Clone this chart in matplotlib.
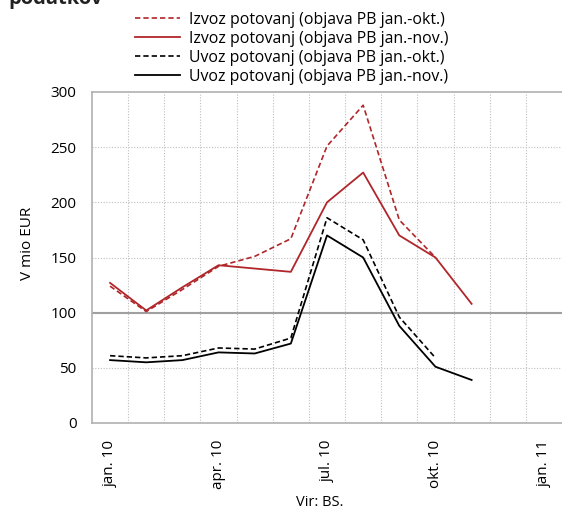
import numpy as np
import matplotlib.pyplot as plt

plt.rcParams['font.family'] = ['Open Sans', 'DejaVu Sans']

# months jan.10 .. jan.11
months = ['jan. 10', 'feb. 10', 'mar. 10', 'apr. 10', 'maj. 10', 'jun. 10',
          'jul. 10', 'avg. 10', 'sep. 10', 'okt. 10', 'nov. 10', 'dec. 10', 'jan. 11']

izvoz_okt = [124, 101, 121, 142, 151, 167, 251, 288, 184, 150]
izvoz_nov = [127, 102, 123, 143, 140, 137, 200, 227, 170, 150, 108]
uvoz_okt = [61, 59, 61, 68, 67, 77, 186, 166, 96, 59]
uvoz_nov = [57, 55, 57, 64, 63, 72, 170, 150, 88, 51, 39]

labels = ['Izvoz potovanj (objava PB jan.-okt.)',
          'Izvoz potovanj (objava PB jan.-nov.)',
          'Uvoz potovanj (objava PB jan.-okt.)',
          'Uvoz potovanj (objava PB jan.-nov.)']

red = '#B0262A'
grid_c = '#bfbfbf'

fig = plt.figure(figsize=(5.62, 5.13), dpi=100)
ax = fig.add_axes((92 / 562, 1 - 423 / 513, 470 / 562, 331 / 513))

x_okt = np.arange(len(izvoz_okt))
x_nov = np.arange(len(izvoz_nov))
dash = (0, (3.2, 1.8))
ax.plot(x_okt, izvoz_okt, color=red, lw=1.2, ls=dash, label=labels[0], zorder=3)
ax.plot(x_nov, izvoz_nov, color=red, lw=1.3, label=labels[1], zorder=3)
ax.plot(x_okt, uvoz_okt, color='black', lw=1.2, ls=dash, label=labels[2], zorder=3)
ax.plot(x_nov, uvoz_nov, color='black', lw=1.3, label=labels[3], zorder=3)

ax.set_xlim(-0.5, len(months) - 0.5)
ax.set_ylim(0, 300)
ax.set_yticks(np.arange(0, 301, 50))

# category boundaries as dotted grid
for b in np.arange(0.5, len(months) - 1, 1):
    ax.axvline(b, color=grid_c, lw=0.8, ls=(0, (1, 1.5)), zorder=1)
for v in [50, 150, 200, 250]:
    ax.axhline(v, color=grid_c, lw=0.8, ls=(0, (1, 1.5)), zorder=1)
ax.axhline(100, color='#a0a0a0', lw=1.5, zorder=2)

ax.set_xticks(np.arange(0, len(months), 3))
ax.set_xticklabels(months[::3], rotation=90, fontsize=11)
ax.tick_params(axis='x', length=0, pad=12)
ax.tick_params(axis='y', length=0, pad=11, labelsize=11)

for s in ['left', 'bottom', 'top']:
    ax.spines[s].set_color('#b0b0b0')
    ax.spines[s].set_linewidth(1.2)
ax.spines['right'].set_visible(False)

ax.set_ylabel('V mio EUR', fontsize=11)
ax.yaxis.set_label_coords(-0.122, 0.544)

fig.text(320 / 562, 1 - 502 / 513, 'Vir: BS.', ha='center', va='center', fontsize=10.5)
fig.text(8 / 562, 1 - 4 / 513, 'podatkov', ha='left', va='baseline',
         fontsize=14.5, fontweight='bold', color='#222222')

fig.legend(loc='upper left', bbox_to_anchor=(135 / 562, 1 - 12 / 513),
           frameon=False, fontsize=11.4, handlelength=2.85, handletextpad=0.57,
           labelspacing=0.18, borderaxespad=0, borderpad=0)

fig.savefig('out.png', dpi=100)
